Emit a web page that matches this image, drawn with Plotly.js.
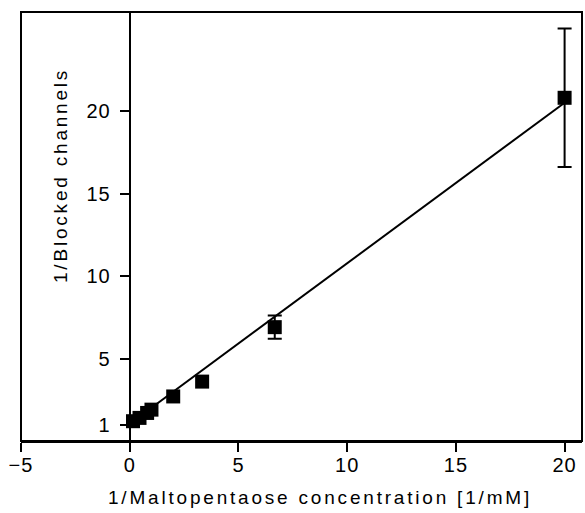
<!DOCTYPE html>
<html>
<head>
<meta charset="utf-8">
<script src="https://cdn.plot.ly/plotly-3.0.1.min.js"></script>
<style>
  html, body { margin: 0; padding: 0; background: #fff; }
  #chart { width: 585px; height: 513px; }
  .annotation-text { letter-spacing: 2.8px; }
  .xtick text, .ytick text { letter-spacing: 1px; }
</style>
</head>
<body>
<div id="chart"></div>
<script>
// Data
const invConc = [0.15, 0.45, 0.8, 1.0, 2.0, 3.33, 6.67, 20];         // 1/Maltopentaose concentration [1/mM]
const invBlocked = [1.2, 1.4, 1.7, 1.9, 2.7, 3.6, 6.9, 20.8];        // 1/Blocked channels
const errBlocked = [NaN, NaN, NaN, NaN, NaN, NaN, 0.7, 4.2];         // error bars (only last two points)
const fitX = [0.1, 20];                                              // linear fit endpoints
const fitY = [1.14, 20.5];
const xTicks = [-5, 0, 5, 10, 15, 20];
const yTicks = [1, 5, 10, 15, 20];
const xTitle = '1/Maltopentaose concentration [1/mM]';
const yTitle = '1/Blocked channels';

const xRange = [-5, 20.8];
const font = 'Liberation Sans, Arial, Helvetica, sans-serif';

const traces = [
  {
    x: fitX, y: fitY, mode: 'lines', type: 'scatter',
    line: { color: '#000', width: 2 }, hoverinfo: 'skip', showlegend: false
  },
  {
    x: invConc, y: invBlocked, mode: 'markers', type: 'scatter',
    marker: { symbol: 'square', size: 14, color: '#000' },
    error_y: { type: 'data', array: errBlocked, visible: true, color: '#000', thickness: 2, width: 7 },
    showlegend: false
  }
];

const layout = {
  width: 585, height: 513,
  margin: { l: 21, r: 3, t: 12, b: 72 },
  paper_bgcolor: '#fff', plot_bgcolor: '#fff',
  font: { family: font, color: '#000', size: 17 },
  showlegend: false,
  xaxis: {
    range: xRange, tickvals: xTicks, ticktext: xTicks.map(v => v < 0 ? '\u2212' + Math.abs(v) : String(v)),
    showgrid: false, zeroline: false, showline: true, linecolor: '#000', linewidth: 2,
    ticks: 'outside', ticklen: 9, tickwidth: 2, tickcolor: '#000',
    tickfont: { family: font, size: 20, color: '#000' }, ticklabelstandoff: -4
  },
  yaxis: {
    range: [0, 26], tickvals: yTicks, ticktext: yTicks.map(String),
    anchor: 'free', position: (0 - xRange[0]) / (xRange[1] - xRange[0]), side: 'left',
    showgrid: false, zeroline: false, showline: true, linecolor: '#000', linewidth: 2,
    ticks: 'outside', ticklen: 9, tickwidth: 2, tickcolor: '#000',
    tickfont: { family: font, size: 20, color: '#000' }, ticklabelstandoff: 5
  },
  shapes: [
    { type: 'rect', xref: 'paper', yref: 'paper', x0: 0, x1: 1, y0: 0, y1: 1,
      line: { color: '#000', width: 2 }, fillcolor: 'rgba(0,0,0,0)', layer: 'above' }
  ],
  annotations: [
    { text: xTitle, xref: 'paper', yref: 'paper', x: (320 - 21) / 561, y: (441 - 497) / 429,
      xanchor: 'center', yanchor: 'middle', showarrow: false, font: { family: font, size: 19, color: '#000' } },
    { text: yTitle, xref: 'paper', yref: 'paper', x: (60 - 21) / 561, y: (441 - 176) / 429,
      xanchor: 'center', yanchor: 'middle', textangle: -90, showarrow: false, font: { family: font, size: 19, color: '#000' } }
  ]
};

Plotly.newPlot('chart', traces, layout, { displayModeBar: false, staticPlot: true });
</script>
</body>
</html>
